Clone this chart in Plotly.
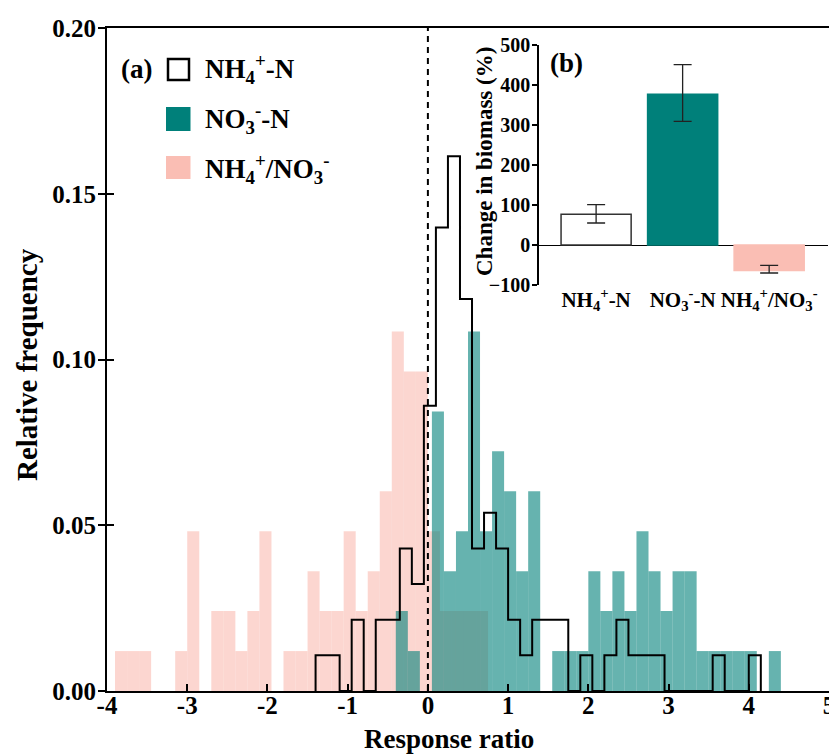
import plotly.graph_objects as go

# ---------------- data ----------------
BIN_WIDTH = 0.15

# NH4+-N histogram (step outline), counts per bin starting at NH4_START
NH4_START = -1.4
NH4_COUNTS = [1, 1, 0, 2, 0, 2, 2, 4, 3, 8, 13, 15, 11, 4, 5, 4, 2, 1, 2, 2, 2, 0,
              1, 0, 1, 2, 1, 1, 1, 0, 0, 0, 0, 1, 0, 0, 1]
NH4_N = 93

# NO3--N histogram (filled teal)
NO3_START = -0.4
NO3_COUNTS = [2, 1, 0, 7, 3, 4, 9, 4, 6, 5, 3, 5, 0, 1, 1, 1, 3, 2, 3, 2, 4, 3, 2,
              3, 3, 1, 1, 1, 1, 1, 0, 1]
NO3_N = 83

# NH4+/NO3- histogram (filled pink)
MIX_START = -3.9
MIX_COUNTS = [1, 1, 1, 0, 0, 1, 4, 0, 2, 2, 1, 2, 4, 0, 1, 1, 3, 2, 2, 4, 2, 3, 5,
              9, 8, 8, 4, 2, 2, 2, 2]
MIX_N = 83

# Inset (b): change in biomass (%)
INSET_CATS = ["NH<sub>4</sub><sup>+</sup>-N", "NO<sub>3</sub><sup>-</sup>-N",
              "NH<sub>4</sub><sup>+</sup>/NO<sub>3</sub><sup>-</sup>"]
INSET_VALUES = [77, 377, -64]
INSET_ERR_UP = [24, 74, 13]
INSET_ERR_DOWN = [22, 68, 6]

X_TICKS = [-4, -3, -2, -1, 0, 1, 2, 3, 4, 5]
Y_TICKS = [0.00, 0.05, 0.10, 0.15, 0.20]
INSET_Y_TICKS = [-100, 0, 100, 200, 300, 400, 500]

# ---------------- styles ----------------
FONT = "Liberation Serif"
TEAL = "rgb(0,128,122)"
PINK = "rgb(250,190,180)"
TEAL_A = "rgba(0,128,122,0.6)"
PINK_A = "rgba(250,190,180,0.63)"

# page is shown with an 8px body margin: figure origin at page (8, 8)
OFF = 8
W, H = 837 - OFF, 754 - OFF
PAGE_L, PAGE_R, PAGE_T, PAGE_B = 107, 829, 28, 691
ML, MT = PAGE_L - OFF, PAGE_T - OFF
PW, PH = PAGE_R - PAGE_L, PAGE_B - PAGE_T
MR, MB = W - ML - PW, H - MT - PH


def px(x):
    return (x - PAGE_L) / PW


def py(y):
    return (PAGE_B - y) / PH


def centers(start, counts):
    return [start + BIN_WIDTH * (i + 0.5) for i in range(len(counts))]


def freqs(counts, n):
    return [c / n for c in counts]


fig = go.Figure()

fig.add_trace(go.Bar(
    x=centers(MIX_START, MIX_COUNTS), y=freqs(MIX_COUNTS, MIX_N),
    width=BIN_WIDTH, marker=dict(color=PINK_A, line=dict(width=0)),
    showlegend=False, xaxis="x", yaxis="y"))

fig.add_trace(go.Bar(
    x=centers(NO3_START, NO3_COUNTS), y=freqs(NO3_COUNTS, NO3_N),
    width=BIN_WIDTH, marker=dict(color=TEAL_A, line=dict(width=0)),
    showlegend=False, xaxis="x", yaxis="y"))

# step outline for NH4+-N
nh4_f = freqs(NH4_COUNTS, NH4_N)
edges = [NH4_START + BIN_WIDTH * i for i in range(len(NH4_COUNTS) + 1)]
sx = [edges[0]] + edges[:-1] + [edges[-1]]
sy = [0] + nh4_f + [0]
fig.add_trace(go.Scatter(
    x=sx, y=sy, mode="lines", line=dict(color="black", width=2, shape="hv"),
    showlegend=False, xaxis="x", yaxis="y"))

# inset bars
fig.add_trace(go.Bar(
    x=INSET_CATS, y=INSET_VALUES, width=0.81,
    marker=dict(color=["white", TEAL, PINK],
                line=dict(color=["#333333", TEAL, PINK], width=1.5)),
    error_y=dict(type="data", symmetric=False, array=INSET_ERR_UP,
                 arrayminus=INSET_ERR_DOWN, color="#222222", thickness=1.3,
                 width=9),
    showlegend=False, xaxis="x2", yaxis="y2"))

# dummy trace to activate yaxis3 (inside ticks of main y axis)
fig.add_trace(go.Scatter(x=[None], y=[None], xaxis="x", yaxis="y3",
                         showlegend=False))

# zero dashed line
fig.add_shape(type="line", xref="x", yref="y", x0=0, x1=0, y0=0, y1=0.2,
              line=dict(color="black", width=2, dash="6px,5px"), layer="above")

tickfont = dict(family=FONT, size=25, color="black", weight="bold")
insetfont = dict(family=FONT, size=21, color="black", weight="bold")
insetyfont = dict(family=FONT, size=20, color="black", weight="bold")

fig.update_layout(
    width=W, height=H,
    margin=dict(l=ML, r=MR, t=MT, b=MB, autoexpand=False),
    paper_bgcolor="white", plot_bgcolor="white",
    barmode="overlay",
    font=dict(family=FONT, color="black"),
    xaxis=dict(domain=[0, 1], range=[-4, 5], tickvals=X_TICKS,
               ticktext=[str(v) for v in X_TICKS],
               showline=True, linecolor="black", linewidth=2, mirror=True,
               ticks="inside", ticklen=7, tickwidth=2, tickcolor="black",
               ticklabelstandoff=-9,
               showgrid=False, zeroline=False, tickfont=tickfont),
    yaxis=dict(domain=[0, 1], range=[0, 0.2], tickvals=Y_TICKS,
               ticktext=["%.2f" % v for v in Y_TICKS],
               showline=True, linecolor="black", linewidth=2, mirror=True,
               ticks="outside", ticklen=7, tickwidth=2, tickcolor="black",
               ticklabelstandoff=-3,
               showgrid=False, zeroline=False, tickfont=tickfont),
    yaxis3=dict(overlaying="y", range=[0, 0.2], tickvals=Y_TICKS,
                showticklabels=False, ticks="inside", ticklen=7, tickwidth=2,
                tickcolor="black", showline=False, showgrid=False,
                zeroline=False, side="left"),
    xaxis2=dict(domain=[px(539), px(828)], anchor="y2", range=[-0.66, 2.68],
                showline=False, ticks="", showgrid=False, zeroline=False,
                tickfont=insetfont),
    yaxis2=dict(domain=[py(285), py(45)], anchor="x2", range=[-100, 500],
                tickvals=INSET_Y_TICKS,
                showline=True, linecolor="black", linewidth=1.5,
                ticks="outside", ticklen=5, tickwidth=1.5, tickcolor="black",
                ticklabelstandoff=-2,
                showgrid=False, zeroline=True, zerolinecolor="black",
                zerolinewidth=1.3, tickfont=insetyfont),
)

ann_font = dict(family=FONT, size=27, color="black")
annotations = [
    dict(text="<b>Relative frequency</b>", x=px(27), y=py(365), textangle=-90,
         font=dict(family=FONT, size=29, color="black")),
    dict(text="<b>Response ratio</b>", x=px(449), y=py(739),
         font=dict(family=FONT, size=27, color="black")),
    dict(text="<b>(a)</b>", x=px(136), y=py(69), font=ann_font),
    dict(text="<b>NH<sub>4</sub><sup>+</sup>-N</b>", x=px(203), y=py(69),
         xanchor="left", font=ann_font),
    dict(text="<b>NO<sub>3</sub><sup>-</sup>-N</b>", x=px(203), y=py(119),
         xanchor="left", font=ann_font),
    dict(text="<b>NH<sub>4</sub><sup>+</sup>/NO<sub>3</sub><sup>-</sup></b>",
         x=px(203), y=py(169), xanchor="left", font=ann_font),
    dict(text="<b>(b)</b>", x=px(566), y=py(63), font=ann_font),
    dict(text="<b>Change in biomass (%)</b>", x=px(485), y=py(162),
         textangle=-90, font=dict(family=FONT, size=23, color="black")),
]
for a in annotations:
    a.setdefault("xanchor", "center")
    a.update(xref="paper", yref="paper", yanchor="middle", showarrow=False)
fig.update_layout(annotations=annotations)

# legend swatches
fig.add_shape(type="rect", xref="paper", yref="paper",
              x0=px(168), x1=px(189), y0=py(80), y1=py(59),
              line=dict(color="black", width=2.5), fillcolor="white")
fig.add_shape(type="rect", xref="paper", yref="paper",
              x0=px(166), x1=px(190.5), y0=py(131), y1=py(107),
              line=dict(width=0), fillcolor=TEAL)
fig.add_shape(type="rect", xref="paper", yref="paper",
              x0=px(166), x1=px(190.5), y0=py(179), y1=py(156),
              line=dict(width=0), fillcolor=PINK)

fig.write_html("out.html")
